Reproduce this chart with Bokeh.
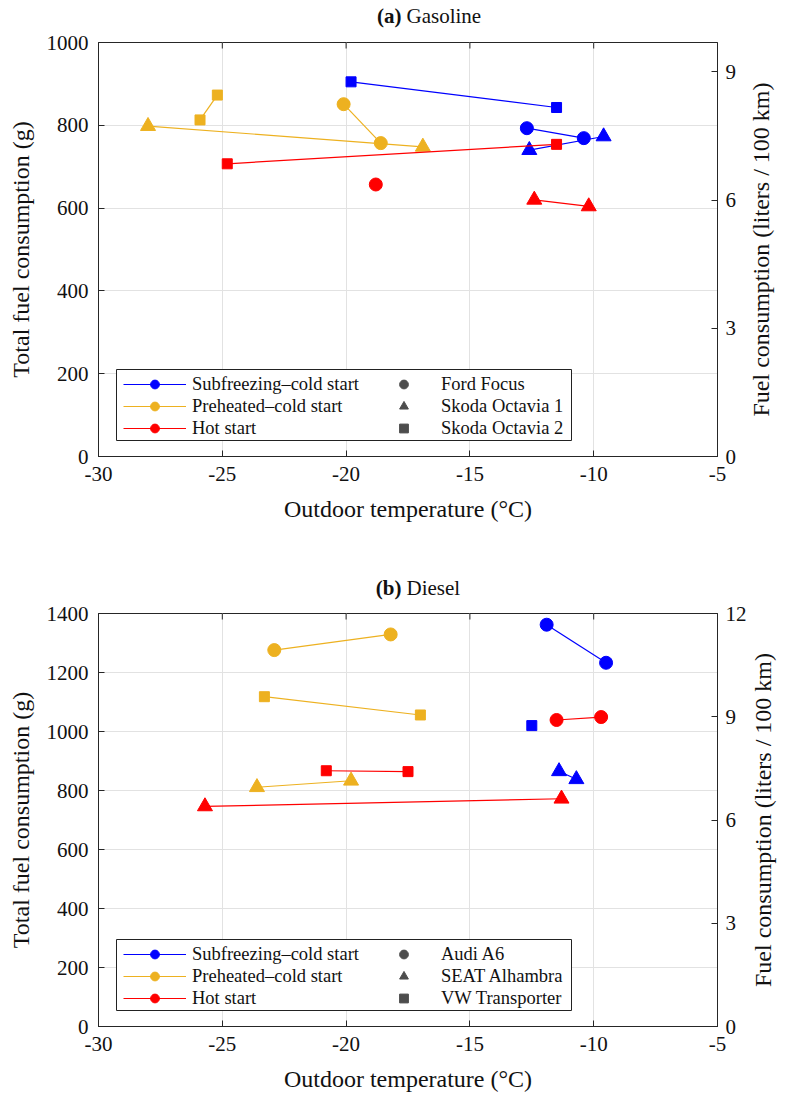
import math
from bokeh.plotting import figure
from bokeh.models import (ColumnDataSource, Range1d, LinearAxis, FixedTicker,
                          Legend, LegendItem, BoxAnnotation, Label)
from bokeh.layouts import column, row
from bokeh.embed import file_html
from bokeh.resources import INLINE

# ---------------- data ----------------
CONDITIONS = ["Subfreezing\u2013cold start", "Preheated\u2013cold start", "Hot start"]
COND_COLORS = ["#0000FF", "#EDB120", "#FF0000"]
GAS_CARS = ["Ford Focus", "Skoda Octavia 1", "Skoda Octavia 2"]
DIESEL_CARS = ["Audi A6", "SEAT Alhambra", "VW Transporter"]

X_TICKS = [-30, -25, -20, -15, -10, -5]
GAS_Y_TICKS = [0, 200, 400, 600, 800, 1000]
GAS_R_TICKS = [0, 3, 6, 9]
DIESEL_Y_TICKS = [0, 200, 400, 600, 800, 1000, 1200, 1400]
DIESEL_R_TICKS = [0, 3, 6, 9, 12]

# (a) Gasoline: outdoor temperature (C) / total fuel consumption (g)
gas_sub_ford_t = [-12.7, -10.4]
gas_sub_ford_g = [793, 769]
gas_sub_oct1_t = [-12.6, -9.6]
gas_sub_oct1_g = [740, 773]
gas_sub_oct2_t = [-19.8, -11.5]
gas_sub_oct2_g = [905, 843]
gas_pre_ford_t = [-20.1, -18.6]
gas_pre_ford_g = [851, 757]
gas_pre_oct1_t = [-28.0, -16.9]
gas_pre_oct1_g = [798, 748]
gas_pre_oct2_t = [-25.9, -25.2]
gas_pre_oct2_g = [813, 873]
gas_hot_ford_t = [-18.8]
gas_hot_ford_g = [657]
gas_hot_oct1_t = [-12.4, -10.2]
gas_hot_oct1_g = [620, 604]
gas_hot_oct2_t = [-24.8, -11.5]
gas_hot_oct2_g = [707, 754]

# (b) Diesel
die_sub_audi_t = [-11.9, -9.5]
die_sub_audi_g = [1362, 1233]
die_sub_seat_t = [-11.4, -10.7]
die_sub_seat_g = [865, 838]
die_sub_vw_t = [-12.5]
die_sub_vw_g = [1020]
die_pre_audi_t = [-22.9, -18.2]
die_pre_audi_g = [1276, 1329]
die_pre_seat_t = [-23.6, -19.8]
die_pre_seat_g = [811, 833]
die_pre_vw_t = [-23.3, -17.0]
die_pre_vw_g = [1118, 1056]
die_hot_audi_t = [-11.5, -9.7]
die_hot_audi_g = [1039, 1049]
die_hot_seat_t = [-25.7, -11.3]
die_hot_seat_g = [746, 772]
die_hot_vw_t = [-20.8, -17.5]
die_hot_vw_g = [867, 864]

GAS_SERIES = [
    (0, 0, gas_sub_ford_t, gas_sub_ford_g), (0, 1, gas_sub_oct1_t, gas_sub_oct1_g),
    (0, 2, gas_sub_oct2_t, gas_sub_oct2_g),
    (1, 0, gas_pre_ford_t, gas_pre_ford_g), (1, 1, gas_pre_oct1_t, gas_pre_oct1_g),
    (1, 2, gas_pre_oct2_t, gas_pre_oct2_g),
    (2, 0, gas_hot_ford_t, gas_hot_ford_g), (2, 1, gas_hot_oct1_t, gas_hot_oct1_g),
    (2, 2, gas_hot_oct2_t, gas_hot_oct2_g),
]
DIESEL_SERIES = [
    (0, 0, die_sub_audi_t, die_sub_audi_g), (0, 1, die_sub_seat_t, die_sub_seat_g),
    (0, 2, die_sub_vw_t, die_sub_vw_g),
    (1, 0, die_pre_audi_t, die_pre_audi_g), (1, 1, die_pre_seat_t, die_pre_seat_g),
    (1, 2, die_pre_vw_t, die_pre_vw_g),
    (2, 0, die_hot_audi_t, die_hot_audi_g), (2, 1, die_hot_seat_t, die_hot_seat_g),
    (2, 2, die_hot_vw_t, die_hot_vw_g),
]

# ---------------- style ----------------
FONT = "Liberation Serif"
MARKERS = ["circle", "triangle", "square"]
MSIZES = [13, 15, 10]
AX_COL = "#262626"
GRID_COL = "#E2E2E2"
CAR_GRAY = "#4D4D4D"
TXT = "#111111"
RIGHT_LABEL = "Fuel consumption (liters / 100 km)"


def style_axis(ax, label_size="24px"):
    ax.major_label_text_font = FONT
    ax.major_label_text_font_size = "21px"
    ax.major_label_text_color = TXT
    ax.axis_label_text_font = FONT
    ax.axis_label_text_font_size = label_size
    ax.axis_label_text_font_style = "normal"
    ax.axis_label_text_color = TXT
    ax.axis_line_color = AX_COL
    ax.major_tick_line_color = AX_COL
    ax.major_tick_in = 6
    ax.major_tick_out = 0
    ax.minor_tick_line_color = None


def blank_fig(w, h):
    f = figure(width=w, height=h, x_range=Range1d(0, 1), y_range=Range1d(0, 1),
               x_axis_type=None, y_axis_type=None, min_border=0,
               output_backend="svg", toolbar_location=None)
    f.outline_line_color = None
    f.background_fill_color = "white"
    f.border_fill_color = "white"
    return f


def title_fig(h, tag, word, y_from_bottom):
    f = blank_fig(787, h)
    f.add_layout(Label(x=401, y=y_from_bottom, x_units="screen", y_units="screen",
                       text=tag, text_font=FONT, text_font_size="21px",
                       text_font_style="bold", text_align="right",
                       text_baseline="middle", text_color=TXT))
    f.add_layout(Label(x=406, y=y_from_bottom, x_units="screen", y_units="screen",
                       text=word, text_font=FONT, text_font_size="21px",
                       text_font_style="normal", text_align="left",
                       text_baseline="middle", text_color=TXT))
    return f


def side_fig(h, frame_h):
    # this figure's frame lines up with the main plot's frame in the row
    f = blank_fig(40, h)
    f.add_layout(Label(x=13, y=frame_h / 2, x_units="screen", y_units="screen",
                       text=RIGHT_LABEL, angle=math.pi / 2, text_font=FONT,
                       text_font_size="24px", text_align="center",
                       text_baseline="middle", text_color=TXT))
    return f


def build(series, cars, y_ticks, ymax, r_ticks, rmax, frame_h, b_top, b_bottom):
    p = figure(width=98 + 619 + 30, height=b_top + frame_h + b_bottom,
               frame_width=619, frame_height=frame_h,
               min_border_left=98, min_border_right=30,
               min_border_top=b_top, min_border_bottom=b_bottom,
               x_range=Range1d(-30, -5), y_range=Range1d(0, ymax),
               output_backend="svg", toolbar_location=None)
    p.outline_line_color = AX_COL
    p.outline_line_width = 1
    p.background_fill_color = "white"
    p.border_fill_color = "white"

    p.xaxis.ticker = FixedTicker(ticks=X_TICKS)
    p.xaxis.major_label_overrides = {t: str(t) for t in X_TICKS}
    p.yaxis.ticker = FixedTicker(ticks=y_ticks)
    p.xaxis.axis_label = "Outdoor temperature (\u00b0C)"
    p.yaxis.axis_label = "Total fuel consumption (g)"
    style_axis(p.xaxis[0])
    style_axis(p.yaxis[0])
    p.xaxis.major_label_standoff = 10
    p.xaxis.axis_label_standoff = 12
    p.yaxis.major_label_standoff = 10
    p.yaxis.axis_label_standoff = 10
    p.xgrid.grid_line_color = GRID_COL
    p.ygrid.grid_line_color = GRID_COL
    p.xgrid.ticker = FixedTicker(ticks=X_TICKS)
    p.ygrid.ticker = FixedTicker(ticks=y_ticks)

    p.extra_y_ranges = {"liters": Range1d(0, rmax)}
    rax = LinearAxis(y_range_name="liters", ticker=FixedTicker(ticks=r_ticks))
    style_axis(rax)
    rax.major_label_standoff = 8
    p.add_layout(rax, "right")

    # tick marks along the top edge of the box (from the x tick list)
    tick_len = 6 * ymax / frame_h
    p.segment(x0=X_TICKS, y0=[ymax] * len(X_TICKS), x1=X_TICKS,
              y1=[ymax - tick_len] * len(X_TICKS), line_color=AX_COL, line_width=1)

    line_r = {}
    circ_r = {}
    car_x = {0: [], 1: [], 2: []}
    car_y = {0: [], 1: [], 2: []}
    for cond, car, xs, ys in series:
        src = ColumnDataSource(dict(x=xs, y=ys))
        col = COND_COLORS[cond]
        car_x[car] += list(xs)
        car_y[car] += list(ys)
        if len(xs) > 1:
            lr = p.line("x", "y", source=src, line_color=col, line_width=1.2)
            line_r.setdefault(cond, lr)
        sr = p.scatter("x", "y", source=src, marker=MARKERS[car], size=MSIZES[car],
                       fill_color=col, line_color=col)
        if car == 0:
            circ_r.setdefault(cond, sr)

    # legend frame
    box = BoxAnnotation(left=18, right=473, bottom=16, top=87,
                        left_units="screen", right_units="screen",
                        bottom_units="screen", top_units="screen",
                        fill_color="white", fill_alpha=1.0,
                        line_color="#222222", line_width=1, line_alpha=1.0)
    p.add_layout(box)

    items_a = [LegendItem(label=CONDITIONS[c], renderers=[line_r[c], circ_r[c]])
               for c in range(3)]
    proxies = []
    for k in range(3):
        pr = p.scatter("x", "y", source=ColumnDataSource(dict(x=car_x[k], y=car_y[k])),
                       marker=MARKERS[k], size=MSIZES[k],
                       fill_color=CAR_GRAY, line_color=CAR_GRAY, visible=False)
        proxies.append(pr)
    items_b = [LegendItem(label=cars[k], renderers=[proxies[k]]) for k in range(3)]

    for items, xloc in ((items_a, 25), (items_b, 274)):
        lg = Legend(items=items, location=(xloc, 17), orientation="vertical",
                    glyph_width=63, glyph_height=22, spacing=0, padding=0, margin=0,
                    label_standoff=6, label_text_font=FONT,
                    label_text_font_size="18.5px", label_text_color=TXT,
                    border_line_color=None, background_fill_alpha=0.0,
                    inactive_fill_alpha=0.0)
        p.add_layout(lg)
    return p


# top block: 29 (title) + 13 + 414 + 95 = 551
p1 = build(GAS_SERIES, GAS_CARS, GAS_Y_TICKS, 1000, GAS_R_TICKS, 9.69, 414, 13, 95)
t1 = title_fig(29, "(a)", "Gasoline", 14)
s1 = side_fig(13 + 414 + 95, 414)

# bottom block: 49 (title) + 13 + 413 + 76 = 551
p2 = build(DIESEL_SERIES, DIESEL_CARS, DIESEL_Y_TICKS, 1400, DIESEL_R_TICKS, 12, 413, 13, 76)
t2 = title_fig(49, "(b)", "Diesel", 13)
s2 = side_fig(13 + 413 + 76, 413)

layout = column(t1, row(p1, s1, spacing=0), t2, row(p2, s2, spacing=0), spacing=0)
open("out.html", "w").write(file_html(layout, INLINE))
